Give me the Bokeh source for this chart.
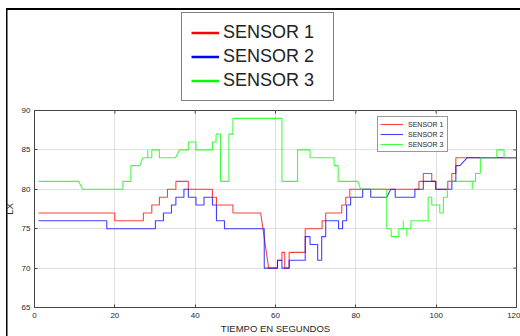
import math
from bokeh.plotting import figure
from bokeh.layouts import column
from bokeh.models import Legend, LegendItem, FixedTicker
from bokeh.embed import file_html
from bokeh.resources import INLINE

# ---- data (time in s, LX) ----
series_names = ["SENSOR 1", "SENSOR 2", "SENSOR 3"]
series_colors = ["#ff0000", "#0000ff", "#00ff00"]

t1 = [1, 20, 20, 27.1, 27.1, 29.2, 29.2, 31.1, 31.1, 33.1, 33.1, 35.2, 35.2, 38.3, 38.3, 44.3, 44.3, 45.3, 45.3,
      49.4, 49.4, 56.3, 58.3, 60.5, 60.5, 61.6, 61.6, 62.3, 62.3, 63.4, 63.4, 67.4, 67.4, 71.6, 71.6, 72.5, 72.5,
      76.5, 76.5, 77.5, 77.5, 78.5, 78.5, 95.7, 95.7, 96.8, 96.8, 98.9, 98.9, 99.9, 99.9, 102.9, 102.9, 103.9,
      103.9, 104.9, 104.9, 120]
s1 = [77, 77, 76, 76, 77, 77, 78, 78, 79, 79, 80, 80, 81, 81, 80, 80, 79, 79, 78, 78, 77, 77,
      70, 70, 71, 71, 72, 72, 70, 70, 72, 72, 75, 75, 76, 76, 77, 77, 78, 78, 79, 79, 80,
      80, 81, 81, 82, 82, 81, 81, 80, 80, 81, 81, 82, 82, 84, 84]

t2 = [1, 18, 18, 30.1, 30.1, 32.1, 32.1, 34.1, 34.1, 35.2, 35.2, 37.2, 37.2, 38.3, 38.3, 40.2, 40.2, 42.2, 42.2,
      44.3, 44.3, 45.3, 45.3, 47.3, 47.3, 57.2, 57.2, 60.5, 60.5, 61.6, 61.6, 63.4, 63.4, 67.4, 67.4, 68.6, 68.6,
      70.5, 70.5, 71.5, 71.5, 72.5, 72.5, 75.7, 75.7, 76.7, 76.7, 77.7, 77.7, 78.7, 78.7, 81.7, 81.7, 83.7, 83.7,
      87.7, 88.7, 89.8, 89.8, 94.7, 94.7, 96.8, 96.8, 99.9, 99.9, 103.9, 103.9, 104.9, 104.9, 105.9, 107.7, 120]
s2 = [76, 76, 75, 75, 76, 76, 77, 77, 78, 78, 79, 79, 80, 80, 79, 79, 78, 78, 79, 79, 78, 78, 76, 76, 75, 75, 70,
      70, 71, 71, 70, 70, 71, 71, 74, 74, 73, 73, 71, 71, 74, 74, 76, 76, 75, 75, 76, 76, 78, 78, 79, 79, 80, 80,
      79, 79, 80, 80, 79, 79, 80, 80, 81, 81, 80, 80, 81, 81, 83, 83, 84, 84]

t3 = [1, 11, 12, 22, 22, 24, 24, 26.2, 27, 28.2, 28.2, 28.2, 29.2, 29.2, 31.1, 31.1, 35.1, 36.1, 38.3, 38.3,
      40.2, 40.2, 44.3, 44.3, 45.2, 45.2, 46.3, 46.3, 48.4, 48.4, 49.4, 49.4, 61.6, 61.6, 65.5, 65.5, 68.6, 68.6,
      74.6, 74.6, 75.6, 75.6, 80.5, 81.2, 87.7, 87.7, 88.8, 88.8, 90.7, 90.7, 91.8, 91.8, 91.8, 92.7, 92.7, 92.7,
      93.7, 93.7, 98.0, 98.0, 98.9, 98.9, 100.9, 100.9, 101.8, 101.8, 102.8, 102.8, 109.0, 109.0, 109.0, 109.8,
      109.8, 111.0, 111.0, 115.1, 115.1, 116.9, 116.9, 120]
s3 = [81, 81, 80, 80, 81, 81, 83, 83, 84, 84, 85, 84, 84, 85, 85, 84, 84, 85, 85, 86,
      86, 85, 85, 86, 86, 87, 87, 81, 81, 87, 87, 89, 89, 81, 81, 85, 85, 84, 84, 83,
      83, 81, 81, 80, 80, 75, 75, 74, 74, 75, 75, 76, 75, 75, 74, 75, 75, 76, 76, 79,
      79, 78, 78, 77, 77, 79, 79, 81, 81, 80, 81, 81, 82, 82, 84, 84, 85, 85, 84, 84]

series_t = [t1, t2, t3]
series_v = [s1, s2, s3]

x_range = (0, 120)
y_range = (65, 90)
x_ticks = [0, 20, 40, 60, 80, 100, 120]
y_ticks = [65, 70, 75, 80, 85, 90]
x_title = "TIEMPO EN SEGUNDOS"
y_title = "LX"

AX = "#444444"
TXT = "#262626"
FONT = "Liberation Sans"

top_css = ("linear-gradient(#000,#000) 6px 8px / 700px 2px no-repeat, "
           "linear-gradient(#000,#000) 6px 8px / 1.5px 700px no-repeat, #ffffff")
side_css = "linear-gradient(#000,#000) 6px 0px / 1.5px 700px no-repeat, #ffffff"

# ---------- top strip with the large legend ----------
# its ranges keep the series out of view; they only feed the legend icons
head = figure(width=520, height=106, x_range=(0, 1), y_range=(0, 1),
              output_backend="svg", toolbar_location=None,
              x_axis_type=None, y_axis_type=None,
              min_border_left=0, min_border_right=0, min_border_top=0, min_border_bottom=0,
              background_fill_alpha=0, border_fill_alpha=0, outline_line_color=None,
              styles={"background": top_css})
head.xgrid.visible = False
head.ygrid.visible = False
big_icons = [head.line(t, v, line_color=c, line_width=2.5)
             for t, v, c in zip(series_t, series_v, series_colors)]
big = Legend(items=[LegendItem(label=n, renderers=[r]) for n, r in zip(series_names, big_icons)],
             location=(147, 5), orientation="vertical",
             label_text_font=FONT, label_text_font_size="18px", label_text_color="#222222",
             padding=9, spacing=3, margin=0, glyph_width=28, glyph_height=21, label_height=21,
             label_standoff=4, label_width=101,
             border_line_color="black", border_line_width=1.5, background_fill_color="white",
             background_fill_alpha=1)
head.add_layout(big, "center")

# ---------- main chart ----------
p = figure(width=520, height=230, x_range=x_range, y_range=y_range,
           output_backend="svg", toolbar_location=None,
           min_border_left=33, min_border_right=4, min_border_top=4, min_border_bottom=26,
           background_fill_color="white", border_fill_alpha=0,
           styles={"background": side_css})

p.xgrid.ticker = FixedTicker(ticks=x_ticks)
p.ygrid.ticker = FixedTicker(ticks=y_ticks)
for g in (p.xgrid, p.ygrid):
    g.grid_line_color = "#dfdfdf"
    g.grid_line_width = 1

p.outline_line_color = AX
p.outline_line_width = 1

xax = p.below[0]
yax = p.left[0]
xax.ticker = FixedTicker(ticks=x_ticks)
yax.ticker = FixedTicker(ticks=y_ticks)
for ax in (xax, yax):
    ax.major_tick_in = 3
    ax.major_tick_out = 0
    ax.minor_tick_in = 0
    ax.minor_tick_out = 0
    ax.axis_line_color = AX
    ax.major_tick_line_color = AX
    ax.major_label_text_font = FONT
    ax.major_label_text_font_size = "8px"
    ax.major_label_text_color = TXT
    ax.axis_label_text_font = FONT
    ax.axis_label_text_font_size = "9.5px"
    ax.axis_label_text_font_style = "normal"
    ax.axis_label_text_color = TXT
xax.major_label_standoff = 5
yax.major_label_standoff = 4
xax.axis_label_standoff = 2
yax.axis_label_standoff = 4
xax.axis_label = x_title
yax.axis_label = y_title

# inward ticks on the top and right edges of the box (half of each dash is clipped by the frame)
p.scatter(x_ticks, [y_range[1]] * len(x_ticks), marker="dash", size=6, angle=math.pi / 2,
          line_color=AX, line_width=1)
p.scatter([x_range[1]] * len(y_ticks), y_ticks, marker="dash", size=6,
          line_color=AX, line_width=1)

renderers = [p.line(t, v, line_color=c, line_width=1.1, line_alpha=0.75)
             for t, v, c in zip(series_t, series_v, series_colors)]

inner = Legend(items=[LegendItem(label=n, renderers=[r]) for n, r in zip(series_names, renderers)],
               location=(343, 155), orientation="vertical",
               label_text_font=FONT, label_text_font_size="7px", label_text_color=TXT,
               padding=2, spacing=0, margin=0, glyph_width=23, glyph_height=10, label_height=10,
               label_standoff=5, label_width=37,
               border_line_color="#333333", border_line_width=1, background_fill_color="white",
               background_fill_alpha=1)
p.add_layout(inner, "center")

layout = column(head, p, spacing=0)
open("out.html", "w").write(file_html(layout, INLINE))
